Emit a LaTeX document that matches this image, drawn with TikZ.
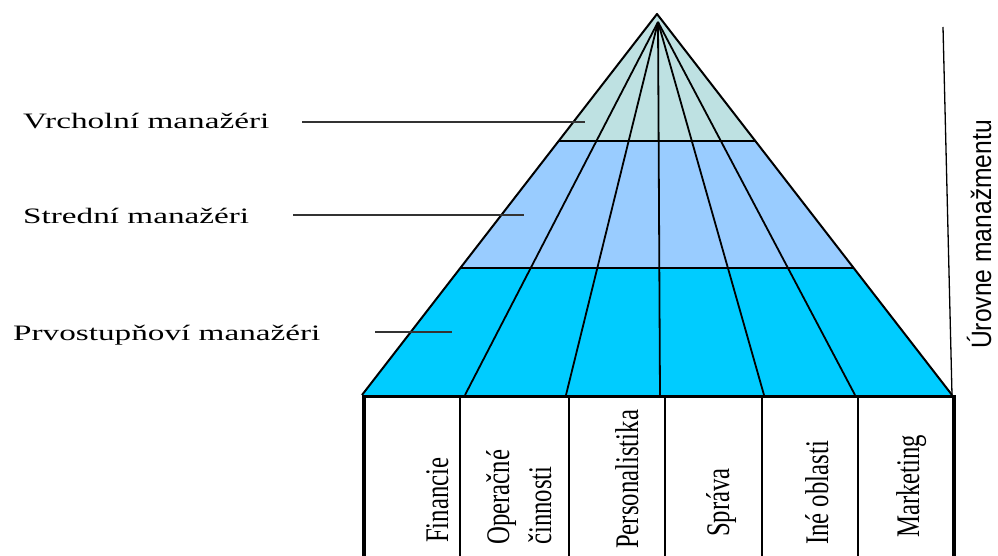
\documentclass[tikz,border=0pt]{standalone}
\usepackage{fontspec}
\setmainfont{Liberation Serif}
\newfontfamily\axisfont{Liberation Sans}
\usetikzlibrary{calc}
\definecolor{topband}{RGB}{190,225,226}
\definecolor{midband}{RGB}{153,204,255}
\definecolor{lowband}{RGB}{0,204,255}
\tikzset{
  edge/.style={line width=2pt, line join=round},
  ray/.style={line width=1.8pt},
  band/.style={line width=1.5pt},
  leader/.style={line width=1.3pt, draw=black!80},
  divider/.style={line width=1.6pt},
  boxtop/.style={line width=3pt},
  boxside/.style={line width=4pt},
  levellabel/.style={anchor=base west, inner sep=0pt, font=\fontsize{22}{26}\selectfont},
  arealabel/.style={rotate=90, anchor=base west, inner sep=0pt, align=left,
                    font=\fontsize{33}{42}\selectfont},
  axislabel/.style={rotate=90, anchor=base west, inner sep=0pt,
                    font=\axisfont\fontsize{28}{34}\selectfont},
}
\newcommand{\wide}[1]{\scalebox{1.51}[1]{#1}}
\newcommand{\narrow}[1]{\scalebox{0.75}[1]{#1}}
\begin{document}
\begin{tikzpicture}[x=1pt,y=-1pt]
\useasboundingbox (0,0) rectangle (998,556);

% pyramid corners and the point the section rays meet in
\coordinate (apex) at (657,14);
\coordinate (bl) at (362,395);
\coordinate (br) at (952,395);
\coordinate (focus) at (658,22);
\coordinate (l1) at ($(apex)!1/3!(bl)$);
\coordinate (r1) at ($(apex)!1/3!(br)$);
\coordinate (l2) at ($(apex)!2/3!(bl)$);
\coordinate (r2) at ($(apex)!2/3!(br)$);

% management levels
\fill[topband] (apex) -- (l1) -- (r1) -- cycle;
\fill[midband] (l1) -- (l2) -- (r2) -- (r1) -- cycle;
\fill[lowband] (l2) -- (bl) -- (br) -- (r2) -- cycle;
\draw[band] (l1) -- (r1);
\draw[band] (l2) -- (r2);

% rays separating the functional areas
\coordinate (b1) at (465,395);
\coordinate (b2) at (566,395);
\coordinate (b3) at (660,395);
\coordinate (b4) at (764,395);
\coordinate (b5) at (855,395);
\foreach \b in {b1,b2,b3,b4,b5} \draw[ray] (focus) -- (\b);
\draw[edge] (bl) -- (apex) -- (br);

% boxes of the functional areas
\coordinate (topL) at (362,396);
\coordinate (topR) at (956,396);
\draw[boxtop] (topL) -- (topR);
\coordinate (sideLt) at (364,395);
\coordinate (sideLb) at (364,556);
\coordinate (sideRt) at (954,395);
\coordinate (sideRb) at (954,556);
\draw[boxside] (sideLt) -- (sideLb);
\draw[boxside] (sideRt) -- (sideRb);
\foreach \i/\x in {1/460,2/569,3/665,4/762,5/858}{
  \coordinate (d\i t) at (\x,396);
  \coordinate (d\i b) at (\x,556);
  \draw[divider] (d\i t) -- (d\i b);
}

% level labels with their leaders
\node[levellabel] (vrch) at (23,129) {\wide{Vrcholní manažéri}};
\node[levellabel] (stred) at (23,223) {\wide{Strední manažéri}};
\node[levellabel] (prvo) at (13,340) {\wide{Prvostupňoví manažéri}};
\coordinate (vrchA) at (302,122);
\coordinate (vrchB) at (585,122);
\coordinate (stredA) at (293,215);
\coordinate (stredB) at (524,215);
\coordinate (prvoA) at (375,332);
\coordinate (prvoB) at (452,332);
\draw[leader] (vrchA) -- (vrchB);
\draw[leader] (stredA) -- (stredB);
\draw[leader] (prvoA) -- (prvoB);

% area labels
\node[arealabel] (fin) at (448,543) {\narrow{Financie}};
\node[arealabel] (oper) at (551,545) {\narrow{Operačné}\\\narrow{činnosti}};
\node[arealabel] (pers) at (638,549) {\narrow{Personalistika}};
\node[arealabel] (sprava) at (729,537) {\narrow{Správa}};
\node[arealabel] (ine) at (828,545) {\narrow{Iné oblasti}};
\node[arealabel] (mark) at (919,538) {\narrow{Marketing}};

% axis of the levels
\coordinate (axtop) at (943,27);
\draw[line width=1.3pt] (axtop) -- (br);
\node[axislabel] (urovne) at (991,349) {\scalebox{0.88}[1]{Úrovne manažmentu}};
\end{tikzpicture}
\end{document}
